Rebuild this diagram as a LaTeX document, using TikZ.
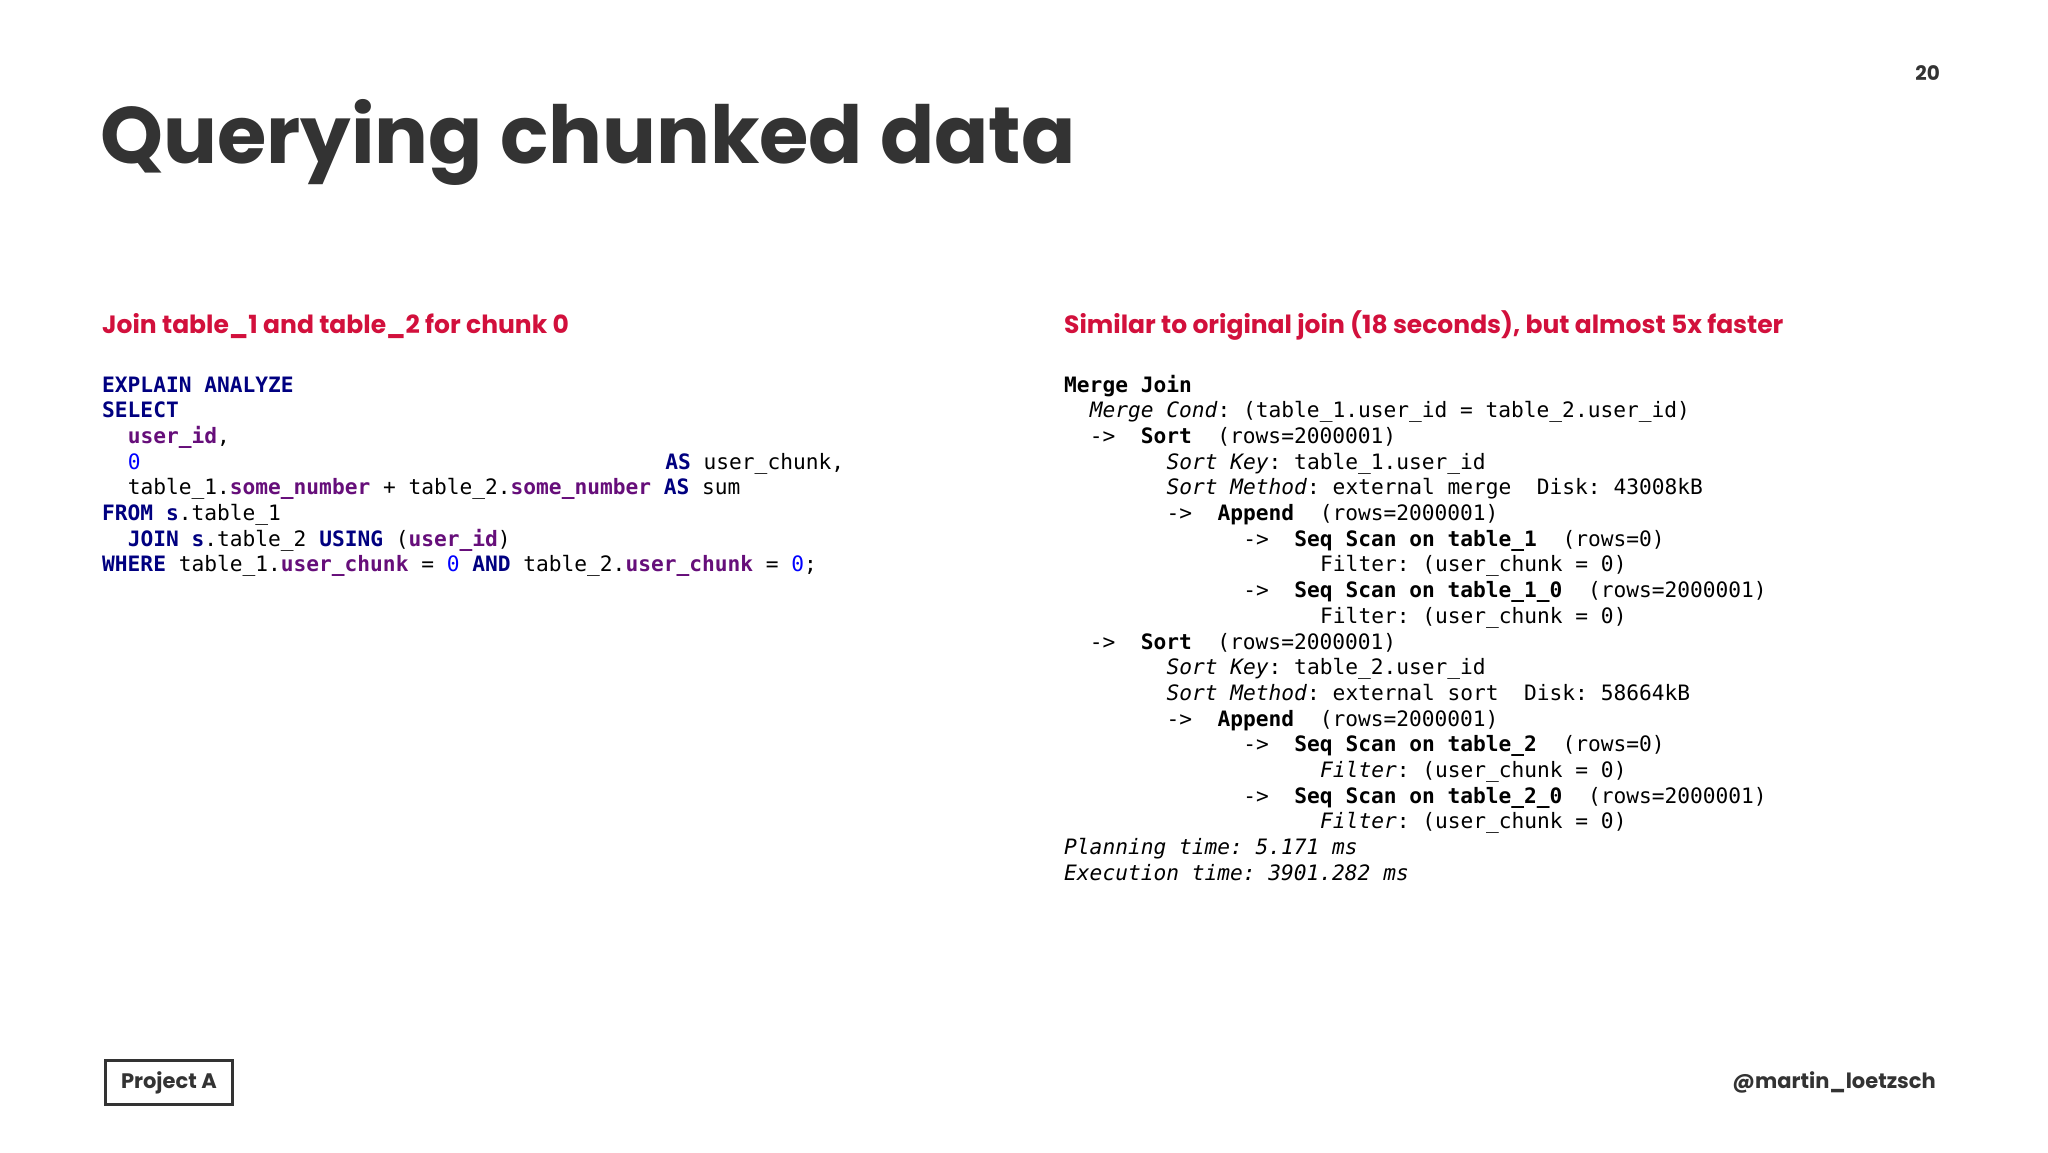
\documentclass[tikz,border=0pt]{standalone}
\usepackage{fontspec}
\setmainfont{Poppins}[BoldFont={* Bold}]
\setmonofont{DejaVu Sans Mono}
\definecolor{kw}{HTML}{000080}
\definecolor{pu}{HTML}{660E7A}
\definecolor{nm}{HTML}{0000FF}
\definecolor{hd}{HTML}{D2103C}
\definecolor{tt}{HTML}{333333}
\newcommand{\kw}[1]{\textcolor{kw}{\textbf{#1}}}
\newcommand{\pu}[1]{\textcolor{pu}{\textbf{#1}}}
\newcommand{\nm}[1]{\textcolor{nm}{#1}}
\tikzset{
 code/.style={anchor=base west,inner sep=0pt,font=\fontsize{21.2}{25}\ttfamily,text=black},
 head/.style={anchor=base west,inner sep=0pt,font=\fontsize{25}{30}\selectfont\bfseries,text=hd},
}
\begin{document}
\begin{tikzpicture}[x=1pt,y=-1pt]
\useasboundingbox[fill=white] (0,0) rectangle (2048,1152);
\def\cw{12.8}\def\lh{25.7}
\node[anchor=base west,inner sep=0pt,font=\fontsize{80}{90}\selectfont\bfseries,text=tt] (title) at (100,163) {Querying chunked data};
\node[anchor=base east,inner sep=0pt,font=\fontsize{20}{24}\selectfont\bfseries,text=tt] (pg) at (1940,80) {20};
\node[head] (hl) at (102,333) {Join table\_1 and table\_2 for chunk 0};
\node[head] (hr) at (1064,333) {Similar to original join (18 seconds), but almost 5x faster};
% left code
\def\L#1#2#3#4{\node[code] (#1) at ({102+#2*\cw},{392+#3*\lh}) {#4};}
\L{l0}{0}{0}{\kw{EXPLAIN~ANALYZE}}
\L{l1}{0}{1}{\kw{SELECT}}
\L{l2}{2}{2}{\pu{user\_id},}
\L{l3a}{2}{3}{\nm{0}}
\L{l3b}{44}{3}{\kw{AS}~user\_chunk,}
\L{l4}{2}{4}{table\_1.\pu{some\_number}~+~table\_2.\pu{some\_number}~\kw{AS}~sum}
\L{l5}{0}{5}{\kw{FROM}~\kw{s}.table\_1}
\L{l6}{2}{6}{\kw{JOIN}~\kw{s}.table\_2~\kw{USING}~(\pu{user\_id})}
\L{l7}{0}{7}{\kw{WHERE}~table\_1.\pu{user\_chunk}~=~\nm{0}~\kw{AND}~table\_2.\pu{user\_chunk}~=~\nm{0};}
% right plan
\def\R#1#2#3#4{\node[code] (#1) at ({1064+#2*\cw},{392+#3*\lh}) {#4};}
\R{r0}{0}{0}{\textbf{Merge~Join}}
\R{r1}{2}{1}{\textit{Merge~Cond}:~(table\_1.user\_id~=~table\_2.user\_id)}
\R{r2}{2}{2}{->~~\textbf{Sort}~~(rows=2000001)}
\R{r3}{8}{3}{\textit{Sort~Key}:~table\_1.user\_id}
\R{r4}{8}{4}{\textit{Sort~Method}:~external~merge~~Disk:~43008kB}
\R{r5}{8}{5}{->~~\textbf{Append}~~(rows=2000001)}
\R{r6}{14}{6}{->~~\textbf{Seq~Scan~on~table\_1}~~(rows=0)}
\R{r7}{20}{7}{Filter:~(user\_chunk~=~0)}
\R{r8}{14}{8}{->~~\textbf{Seq~Scan~on~table\_1\_0}~~(rows=2000001)}
\R{r9}{20}{9}{Filter:~(user\_chunk~=~0)}
\R{r10}{2}{10}{->~~\textbf{Sort}~~(rows=2000001)}
\R{r11}{8}{11}{\textit{Sort~Key}:~table\_2.user\_id}
\R{r12}{8}{12}{\textit{Sort~Method}:~external~sort~~Disk:~58664kB}
\R{r13}{8}{13}{->~~\textbf{Append}~~(rows=2000001)}
\R{r14}{14}{14}{->~~\textbf{Seq~Scan~on~table\_2}~~(rows=0)}
\R{r15}{20}{15}{\textit{Filter}:~(user\_chunk~=~0)}
\R{r16}{14}{16}{->~~\textbf{Seq~Scan~on~table\_2\_0}~~(rows=2000001)}
\R{r17}{20}{17}{\textit{Filter}:~(user\_chunk~=~0)}
\R{r18}{0}{18}{\textit{Planning~time:~5.171~ms}}
\R{r19}{0}{19}{\textit{Execution~time:~3901.282~ms}}
% footer
\node[draw=tt,line width=3pt,inner xsep=16pt,minimum height=44pt,font=\fontsize{21}{24}\selectfont\bfseries,text=tt,anchor=west] (proj) at (103.5,1082.5) {Project A};
\node[anchor=east,inner sep=0pt,font=\fontsize{21}{24}\selectfont\bfseries,text=tt] (tw) at (1936,1082) {@martin\_loetzsch};
\end{tikzpicture}
\end{document}
